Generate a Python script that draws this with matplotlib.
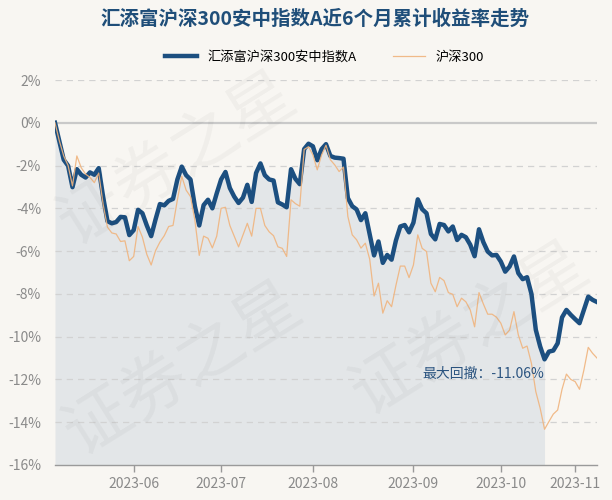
import matplotlib
matplotlib.use('Agg')
import matplotlib.pyplot as plt
import pandas as pd

plt.rcParams['font.family'] = ['Noto Sans CJK SC', 'DejaVu Sans']

# ---------------- data ----------------
start_date = '2023-05-08'
end_date = '2023-11-08'
holidays = ['2023-06-22', '2023-06-23', '2023-09-29', '2023-10-02',
            '2023-10-03', '2023-10-04', '2023-10-05', '2023-10-06']

fund_label = '汇添富沪深300安中指数A'
index_label = '沪深300'
title = '汇添富沪深300安中指数A近6个月累计收益率走势'

fund = [0, -0.87, -1.73, -2.01, -3.01, -2.17, -2.43, -2.56, -2.32, -2.43,
        -2.12, -3.45, -4.6, -4.7, -4.64, -4.4, -4.42, -5.25, -5.02, -4.07,
        -4.23, -4.8, -5.3, -4.52, -3.8, -3.86, -3.65, -3.56, -2.65, -2.05,
        -2.45, -2.65, -3.9, -4.8, -3.85, -3.6, -4.0, -3.3, -2.65, -2.3,
        -3.05, -3.45, -3.75, -3.5, -2.9, -3.7, -2.35, -1.9, -2.45, -2.65,
        -2.7, -3.72, -3.82, -3.95, -2.17, -2.62, -2.87, -1.23, -0.98, -1.1,
        -1.75, -1.23, -1.0, -1.55, -1.63, -1.65, -1.68, -3.52, -3.9, -4.05,
        -4.55, -4.23, -5.22, -6.2, -5.55, -6.55, -6.18, -6.4, -5.5, -4.85,
        -4.78, -5.12, -4.67, -3.58, -4.04, -4.23, -5.2, -5.45, -4.73, -4.78,
        -5.08, -4.85, -5.48, -5.24, -5.35, -5.7, -6.24, -4.98, -5.58, -6.02,
        -6.2, -6.18, -6.49, -6.96, -6.72, -6.25, -7.03, -7.31, -7.22, -8.0,
        -9.68, -10.46, -11.06, -10.7, -10.65, -10.31, -9.1, -8.75, -8.98, -9.18,
        -9.37, -8.75, -8.13, -8.28, -8.38]

hs300 = [0, -0.85, -1.55, -2.0, -2.95, -1.55, -2.1, -2.4, -2.55, -2.8,
         -2.35, -3.8, -4.88, -5.15, -5.2, -5.55, -5.52, -6.45, -6.25, -4.85,
         -5.35, -6.15, -6.65, -5.98, -5.58, -5.28, -4.85, -4.8, -3.6, -2.5,
         -3.15, -3.45, -4.55, -6.2, -5.3, -5.4, -5.85, -5.3, -4.0, -3.95,
         -4.8, -5.3, -5.8, -5.25, -4.7, -5.3, -4.0, -4.0, -4.8, -5.1,
         -5.28, -5.8, -5.87, -6.25, -3.6, -3.78, -3.9, -1.25, -1.12, -1.5,
         -2.2, -1.5, -1.05, -1.73, -1.97, -2.28, -2.07, -4.38, -5.24, -5.47,
         -5.86, -5.63, -6.38, -8.1, -7.5, -8.9, -8.32, -8.6, -7.6, -6.7,
         -6.7, -7.24, -6.65, -5.24, -5.87, -6.02, -7.5, -7.9, -7.23, -7.38,
         -7.94, -8.02, -8.6, -8.2, -8.37, -8.75, -9.54, -7.94, -8.47, -8.95,
         -8.95, -9.09, -9.37, -9.92, -9.69, -8.83, -9.92, -10.54, -10.44, -11.25,
         -12.57, -13.35, -14.33, -13.97, -13.62, -13.43, -12.46, -11.75, -12.0, -12.1,
         -12.46, -11.56, -10.5, -10.78, -11.0]

y_ticks = [2, 0, -2, -4, -6, -8, -10, -12, -14, -16]

# ---------------- build ----------------
dates = pd.bdate_range(start_date, end_date, freq='C', holidays=holidays)
x = list(range(len(dates)))
months = pd.Series(dates.strftime('%Y-%m'))
tick_pos = [i for i in x if i > 0 and months[i] != months[i - 1]]
tick_lab = [months[i] for i in tick_pos]

# max drawdown: from the running peak to the lowest point
peak_i = 0
dd_best, dd_start, dd_end = 0, 0, 0
for i in x:
    if fund[i] > fund[peak_i]:
        peak_i = i
    dd = (1 + fund[i] / 100) / (1 + fund[peak_i] / 100) - 1
    if dd < dd_best:
        dd_best, dd_start, dd_end = dd, peak_i, i

bg = '#f8f6f2'
blue = '#1c4f80'
orange = '#f0b47e'
grey_txt = '#8a8a8a'

fig = plt.figure(figsize=(6.12, 5.0), dpi=100, facecolor=bg)
ax = fig.add_axes([55 / 612, 35 / 500, 542 / 612, 385 / 500])
ax.set_facecolor(bg)

# watermark (kept inside the figure)
for wx, wy in [(0.29, 0.68), (0.30, 0.26), (0.77, 0.34)]:
    fig.text(wx, wy, '证券之星', fontsize=48, color='#000000', alpha=0.035,
             rotation=32, ha='center', va='center', zorder=0)

# drawdown shading
ax.fill_between(x[dd_start:dd_end + 1], fund[dd_start:dd_end + 1], -16,
                color='#e3e6e8', zorder=1, linewidth=0)

for t in y_ticks:
    if t == 0:
        ax.axhline(t, color='#c9c9c9', linewidth=1.6, zorder=2)
    elif t > -16:
        ax.axhline(t, color='#d2d2d2', linewidth=0.9, linestyle=(0, (5, 4)), zorder=2)

ax.plot(x, fund, color=blue, linewidth=3.2, label=fund_label, zorder=4,
        solid_joinstyle='round')
ax.plot(x, hs300, color=orange, linewidth=0.9, label=index_label, zorder=5, alpha=0.9)

ax.text(dd_end, fund[dd_end] - 0.35, '最大回撤：%.2f%%' % (dd_best * 100),
        ha='right', va='top', fontsize=10, color='#2b5480', zorder=6)

ax.set_xlim(0, len(x) - 1)
ax.set_ylim(-16, 2)
ax.set_yticks(y_ticks)
ax.set_yticklabels(['%d%%' % t for t in y_ticks])
ax.set_xticks(tick_pos)
ax.set_xticklabels(tick_lab)
ax.tick_params(axis='y', length=0, labelsize=10, colors=grey_txt, pad=10)
ax.tick_params(axis='x', length=5, width=1, color='#999999', labelsize=10,
               labelcolor=grey_txt, pad=4)
for s in ['top', 'right', 'left']:
    ax.spines[s].set_visible(False)
ax.spines['bottom'].set_color('#9a9a9a')
ax.spines['bottom'].set_linewidth(1.0)

fig.text(0.515, 0.962, title, ha='center', va='center', fontsize=14,
         fontweight='bold', color='#1f4e79')
fig.legend(loc='center', bbox_to_anchor=(0.53, 0.885), ncol=2, frameon=False,
           fontsize=9.5, handlelength=2.4, columnspacing=2.8, handletextpad=0.8)

fig.savefig('out.png', dpi=100, facecolor=bg)
